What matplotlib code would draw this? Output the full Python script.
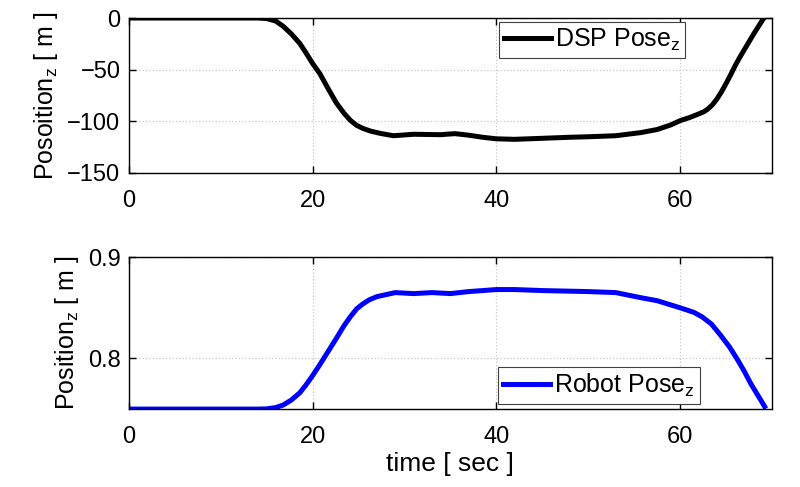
import numpy as np
import matplotlib
matplotlib.use('Agg')
import matplotlib.pyplot as plt

plt.rcParams['font.family'] = ['Liberation Sans', 'DejaVu Sans']
plt.rcParams['mathtext.fontset'] = 'custom'
plt.rcParams['mathtext.rm'] = 'Liberation Sans'
plt.rcParams['mathtext.it'] = 'Liberation Sans:italic'

# Données
t_dsp = [0, 14, 15, 16, 16.8, 17.7, 18.6, 19.3, 20, 20.8, 21.7, 22.6, 23.4, 24.1,
         24.8, 25.5, 26.3, 27.4, 28.8, 31, 33.9, 35.5, 37, 38.5, 40, 42, 45, 48, 50,
         53, 55.7, 57.5, 59, 60, 61, 62, 62.6, 63, 63.5, 64, 64.5, 65, 65.5, 66, 66.5,
         67, 67.5, 68, 68.5, 69, 69.2]
dsp_z = [0, 0, -0.5, -3, -8, -15.5, -24.5, -34, -44, -54, -68.5, -82.4, -92, -99,
         -104, -107, -109.5, -111.8, -114, -112.6, -113, -112, -113.5, -115.5, -117,
         -117.5, -116.5, -115.5, -115, -114, -111, -108, -103.5, -99.4, -96.5, -93,
         -90.7, -88.3, -84.2, -78.5, -71.5, -63.5, -55, -46, -38, -30.5, -23, -15.5,
         -8.5, -1.5, 1]

t_robot = [0, 14, 15, 16, 16.8, 17.7, 18.6, 19.3, 20, 20.8, 21.7, 22.6, 23.4, 24.1,
           24.8, 25.5, 26.2, 27, 29, 31, 33, 35, 37, 40, 42, 45, 50, 53, 55.7, 57.5,
           60, 61.5, 62.4, 63.4, 64.4, 65.4, 66.3, 67, 67.7, 68.5, 69.2]
robot_z = [0.75, 0.75, 0.7502, 0.7515, 0.754, 0.759, 0.766, 0.774, 0.783, 0.794,
           0.807, 0.82, 0.832, 0.841, 0.849, 0.854, 0.858, 0.861, 0.865, 0.864,
           0.865, 0.864, 0.866, 0.868, 0.868, 0.867, 0.866, 0.865, 0.86, 0.857, 0.85,
           0.8455, 0.841, 0.834, 0.823, 0.811, 0.798, 0.787, 0.775, 0.763, 0.7525]

fig = plt.figure(figsize=(8, 4.87), dpi=100)
ax1 = fig.add_axes([0.161, 0.645, 0.804, 0.318])
ax2 = fig.add_axes([0.161, 0.160, 0.804, 0.312])

ax1.plot(t_dsp, dsp_z, color='k', lw=3.6, solid_joinstyle='round',
         label=r'DSP Pose$_\mathrm{z}$')
ax2.plot(t_robot, robot_z, color='#0000ff', lw=3.6, solid_joinstyle='round',
         label=r'Robot Pose$_\mathrm{z}$')

ax1.set_ylim(-150, 0)
ax1.set_yticks([-150, -100, -50, 0])
ax2.set_ylim(0.75, 0.9)
ax2.set_yticks([0.8, 0.9])

for ax in (ax1, ax2):
    ax.set_xlim(0, 70)
    ax.set_xticks([0, 20, 40, 60])
    ax.grid(True, color='#c8c8c8', linestyle=':', lw=0.9)
    ax.tick_params(direction='in', top=True, right=True, length=5, width=1,
                   labelsize=17)
    ax.tick_params(axis='x', pad=12)
    ax.tick_params(axis='y', pad=6)
    for s in ax.spines.values():
        s.set_linewidth(1)
        s.set_color('k')

ax1.set_ylabel(r'Posoition$_\mathrm{z}$ [ m ]', fontsize=18, labelpad=5)
ax2.set_ylabel(r'Position$_\mathrm{z}$ [ m ]', fontsize=18, labelpad=5)
ax2.set_xlabel('time [ sec ]', fontsize=19, labelpad=3)

leg_kw = dict(fontsize=18, fancybox=False, framealpha=1, edgecolor='#404040',
              handlelength=1.9, handletextpad=0.15, borderpad=0.2,
              borderaxespad=0)
l1 = ax1.legend(loc='upper left', bbox_to_anchor=(0.575, 0.974), **leg_kw)
l2 = ax2.legend(loc='lower left', bbox_to_anchor=(0.574, 0.033), **leg_kw)
for l in (l1, l2):
    l.get_frame().set_linewidth(0.8)

fig.savefig('out.png', dpi=100)
